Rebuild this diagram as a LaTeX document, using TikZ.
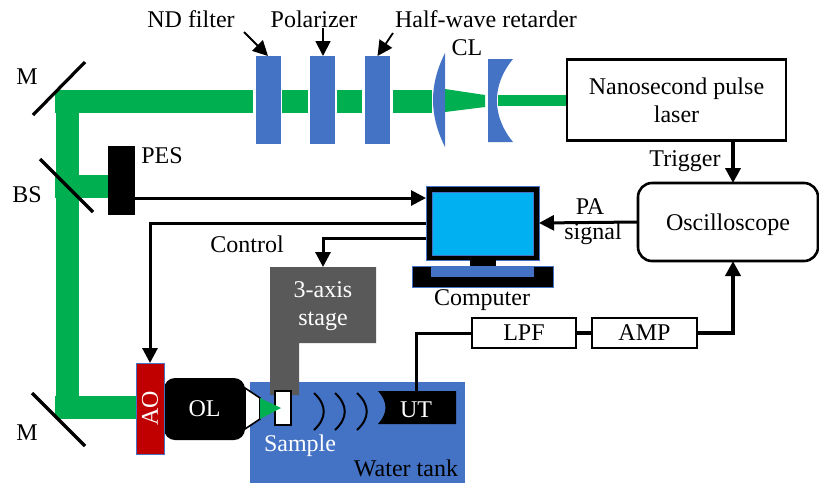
\documentclass[tikz,border=0pt]{standalone}
\usepackage{fontspec}
\setmainfont{Liberation Serif}
\usetikzlibrary{arrows.meta,positioning,calc}
\definecolor{BeamGreen}{HTML}{00B050}
\definecolor{OpticBlue}{HTML}{4472C4}
\definecolor{ScreenBlue}{HTML}{00B0F0}
\definecolor{AoRed}{HTML}{C00000}
\definecolor{StageGray}{HTML}{595959}
\tikzset{
  every node/.style={inner sep=0pt, outer sep=0pt, font=\fontsize{24}{27}\selectfont},
  beam/.style={fill=BeamGreen},
  optic/.style={fill=OpticBlue},
  filterbox/.style={fill=OpticBlue, minimum width=25pt, minimum height=88pt},
  mirror/.style={line width=3.2pt, black},
  whitebox/.style={draw=black, fill=white, line width=2.6pt, align=center},
  smallbox/.style={draw=black, fill=white, line width=1.4pt, minimum height=30pt, align=center},
  arrow/.style={-{Triangle[length=15pt,width=15pt]}, line width=3pt, black},
  thinarrow/.style={-{Triangle[length=15pt,width=15pt]}, line width=1.8pt, black},
  wire/.style={line width=3pt, black},
  wave/.style={line width=2pt, black}
}
\begin{document}
\begin{tikzpicture}[x=1pt,y=-1pt]
  \useasboundingbox (0,0) rectangle (819,483);

  % beam path
  \fill[beam] (55,90) rectangle (253,113);
  \fill[beam] (56,90) rectangle (79,419);
  \fill[beam] (55,175) rectangle (108,198);
  \fill[beam] (55,396) rectangle (136,419);
  \fill[beam] (282,90) rectangle (308,113);
  \fill[beam] (337,90) rectangle (362,113);
  \fill[beam] (393,90) rectangle (432,113);
  \fill[beam] (445,89) -- (485,95) -- (485,107) -- (445,112) -- cycle;
  \fill[beam] (498,95) rectangle (567,106);

  % optics
  \node[filterbox] (ndfilter) at (268,100) {};
  \node[filterbox] (polarizer) at (322,100) {};
  \node[filterbox] (retarder) at (377.5,100) {};
  \fill[optic] (445,53) -- (445,147) .. controls (429,115) and (429,85) .. (445,53);
  \fill[optic] (488,59) -- (513,59) .. controls (491.5,85) and (491.5,116) .. (513,142) -- (488,142) -- cycle;

  \draw[mirror] (85,62) -- (33,115);
  \draw[mirror] (40,159) -- (93,212);
  \draw[mirror] (32,393) -- (85,446);

  \node[whitebox,minimum width=219pt,minimum height=81pt] (laser) at (676.5,100)
    {Nanosecond pulse\\[1pt]laser};
  \node[fill=black,minimum width=27pt,minimum height=69pt] (pes) at (121.5,180.5) {};

  % computer
  \node[fill=black,draw=OpticBlue,line width=0.8pt,minimum width=113pt,minimum height=74pt] (monitor) at (482.5,223) {};
  \node[fill=ScreenBlue,draw=OpticBlue,line width=0.8pt,minimum width=101pt,minimum height=63pt] (screen) at (482.5,223.5) {};
  \node[fill=black,minimum width=26pt,minimum height=6pt] (neck) at (483,263) {};
  \node[fill=black,draw=OpticBlue,line width=0.8pt,minimum width=141pt,minimum height=21pt] (base) at (482.5,276.5) {};
  \node[fill=OpticBlue,minimum width=103pt,minimum height=10.5pt] (keys) at (482.5,271.5) {};

  \node[draw=black,fill=white,line width=2.6pt,rounded corners=14pt,text depth=0pt,
    minimum width=180pt,minimum height=78pt] (osc) at (728,222) {Oscilloscope};
  \node[smallbox,minimum width=104pt] (lpf) at (524,333) {LPF};
  \node[smallbox,minimum width=105pt] (amp) at (644.5,333) {AMP};

  % water tank
  \node[fill=OpticBlue,minimum width=215pt,minimum height=101pt] (tank) at (357.5,432.5) {};
  \fill[StageGray] (270,267) -- (376,267) -- (376,343) -- (299,343) -- (299,395) -- (270,395) -- cycle;
  \node[text=white,align=center] (stagelabel) at (323,306) {3-axis\\[1pt]stage};
  \coordinate (stagetop) at (323,267);

  \node[draw=black,fill=white,line width=2.6pt,minimum width=16pt,minimum height=34pt] (sample) at (283,408) {};
  \draw[fill=white,line width=1.6pt] (245,388) -- (260,398) -- (260,419) -- (245,429) -- cycle;
  \fill[beam] (260,398) -- (281,408) -- (260,419) -- cycle;
  \node[fill=black,rounded corners=11pt,minimum width=81pt,minimum height=62pt,text=white] (ol) at (204.5,409) {OL};
  \node[fill=AoRed,draw=OpticBlue,line width=0.8pt,minimum width=28pt,minimum height=91pt] (ao) at (150,408.5) {};
  \node[text=white,rotate=90] (aolabel) at (150,408) {AO};

  \draw[wave] (314,393) .. controls (327,405) and (327,418) .. (314,430);
  \draw[wave] (335,393) .. controls (348,405) and (348,418) .. (335,430);
  \draw[wave] (357,393) .. controls (370,405) and (370,418) .. (357,430);

  \fill[black] (378,391) -- (456,391) -- (456,424) -- (378,424) .. controls (388,413) and (388,402) .. (378,391);
  \node[text=white] (utlabel) at (416,410) {UT};
  \coordinate (ut) at (416,391);

  % connectors
  \coordinate (pesout) at (135,198);
  \coordinate (trigin) at (733,183);
  \draw[arrow] (pesout) -- (pesout -| monitor.west);
  \draw[arrow] (monitor.west) -| (ao.north);
  \draw[arrow] ([yshift=-15pt]monitor.west) -| (stagetop);
  \draw[arrow] (osc.west) -- (monitor.east);
  \draw[arrow,line width=3.8pt] (trigin |- laser.south) -- (trigin);
  \draw[arrow,line width=3.8pt] (amp.east) -| (trigin |- osc.south);
  \draw[wire] (ut) |- (lpf.west);
  \draw[wire,line width=3.8pt] (lpf.east) -- (amp.west);

  \coordinate (ndtail) at (244,32);
  \coordinate (poltail) at (323,28);
  \coordinate (rettail) at (393,33);
  \draw[thinarrow] (ndtail) -- (ndfilter.north);
  \draw[thinarrow] (poltail) -- (poltail |- polarizer.north);
  \draw[thinarrow] (rettail) -- (retarder.north);

  % labels
  \node (ndlabel) at (191,19) {ND filter};
  \node (pollabel) at (314,19) {Polarizer};
  \node (retlabel) at (486,19) {Half-wave retarder};
  \node (cllabel) at (467,48) {CL};
  \node (mtop) at (27,77) {M};
  \node (bslabel) at (27,195) {BS};
  \node (mbottom) at (27,433) {M};
  \node (peslabel) at (162,156) {PES};
  \node (controllabel) at (247,244) {Control};
  \node (pclabel) at (482,300) {Computer};
  \node (palabel) at (590,207) {PA};
  \node (signallabel) at (593,234) {signal};
  \node (triggerlabel) at (685,161) {Trigger};
  \node[text=white] (samplelabel) at (300,446) {Sample};
  \node (tanklabel) at (406,468) {Water tank};
\end{tikzpicture}
\end{document}
